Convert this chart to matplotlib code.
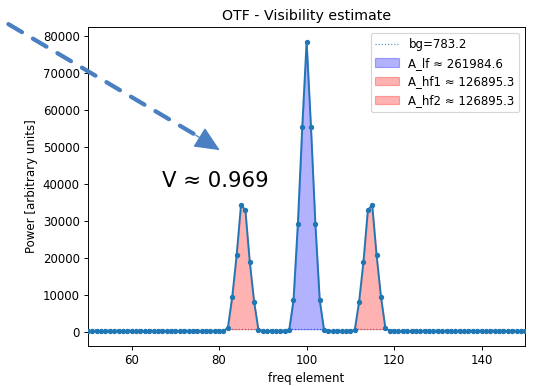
import matplotlib

matplotlib.use("Agg")

import matplotlib.pyplot as plt
import numpy as np

# frequency elements shown on the axis
freq = list(range(50, 151))

# baseline level (small residual power) for every element outside the peaks
baseline = [
    210, 260, 180, 240, 300, 220, 190, 270, 250, 230,
    200, 280, 240, 210, 260, 230, 190, 250, 270, 220,
    240, 260, 210, 230, 250, 200, 270, 240, 220, 260,
    230, 250,
]
# peaks (freq element -> power)
peak_lf_x = [96, 97, 98, 99, 100, 101, 102, 103, 104]
peak_lf_y = [420, 8570, 29270, 55216, 78400, 55216, 29270, 8570, 420]
peak_hf1_x = [82, 83, 84, 85, 86, 87, 88, 89]
peak_hf1_y = [1160, 9540, 20730, 34324, 32890, 19000, 8190, 460]
peak_hf2_x = [111, 112, 113, 114, 115, 116, 117, 118]
peak_hf2_y = [460, 8190, 19000, 32890, 34324, 20730, 9540, 1160]

bg = 783.2
A_lf = 261984.6
A_hf1 = 126895.3
A_hf2 = 126895.3
V = 0.969

DPI = 85


def build_power():
    peaks = {}
    for xs, ys in ((peak_lf_x, peak_lf_y), (peak_hf1_x, peak_hf1_y), (peak_hf2_x, peak_hf2_y)):
        peaks.update(dict(zip(xs, ys)))
    power = []
    for i, f in enumerate(freq):
        power.append(peaks.get(f, baseline[i % len(baseline)]))
    return np.array(power, dtype=float)


def main() -> None:
    x = np.array(freq, dtype=float)
    y = build_power()

    fig = plt.figure(figsize=(536 / DPI, 386 / DPI), dpi=DPI)
    ax = fig.add_axes([0.164, 0.104, 0.816, 0.826])

    ax.plot(x, y, "o-", color="C0", markersize=3.5, linewidth=1.6, zorder=3)
    ax.axhline(bg, color="C0", linestyle=":", linewidth=1.0, alpha=0.8, label=f"bg={bg}")

    def fill(xs, color, label):
        m = (x >= xs[0]) & (x <= xs[-1])
        ax.fill_between(x[m], y[m], bg, color=color, alpha=0.3, label=label, zorder=2)

    fill(peak_lf_x, "blue", f"A_lf \u2248 {A_lf}")
    fill(peak_hf1_x, "red", f"A_hf1 \u2248 {A_hf1}")
    fill(peak_hf2_x, "red", f"A_hf2 \u2248 {A_hf2}")

    ax.set_xlim(50, 150)
    ax.set_title("OTF - Visibility estimate", fontsize=12)
    ax.set_xlabel("freq element")
    ax.set_ylabel("Power [arbitrary units]")
    ax.legend(loc="upper right")

    ax.text(67, 40800, f"V \u2248 {V}", fontsize=18, ha="left", va="center")

    # dashed shaft, then a solid head on top of it
    tip = (0.410, 0.611)
    start = (-0.03, 0.975)
    arrow_color = "#4a7fc1"
    ax.annotate(
        "",
        xy=(0.380, 0.638),
        xycoords="figure fraction",
        xytext=start,
        textcoords="figure fraction",
        arrowprops=dict(
            arrowstyle="-",
            linestyle=(0, (3.7, 3.0)),
            lw=3.6,
            color=arrow_color,
            shrinkA=0,
            shrinkB=0,
        ),
        annotation_clip=False,
    )
    ax.annotate(
        "",
        xy=tip,
        xycoords="figure fraction",
        xytext=(0.365, 0.650),
        textcoords="figure fraction",
        arrowprops=dict(
            arrowstyle="-|>,head_length=0.4,head_width=0.18",
            lw=1.0,
            color=arrow_color,
            mutation_scale=47,
            shrinkA=0,
            shrinkB=0,
        ),
        annotation_clip=False,
    )

    fig.savefig("out.png", dpi=DPI)
    plt.close(fig)


if __name__ == "__main__":
    main()
